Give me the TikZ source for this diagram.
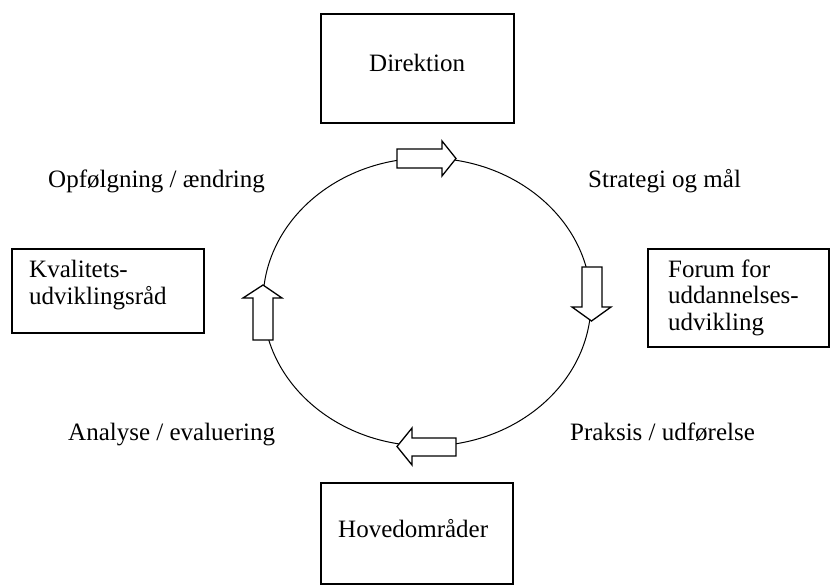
\documentclass[tikz,border=0pt]{standalone}
\usepackage{fontspec}
\setmainfont{Liberation Serif}
\begin{document}
\begin{tikzpicture}[x=1pt,y=-1pt,
  font=\fontsize{25}{26.5}\selectfont,
  box/.style={draw, line width=1.6pt, inner sep=0pt},
  lbl/.style={anchor=base west, inner sep=0pt, align=left},
  blockarrow/.style={draw, fill=white, line width=1.3pt, line join=miter},
  cycle line/.style={line width=1pt}]
\useasboundingbox (0,0) rectangle (832,586);
% boxes
\node[box, minimum width=193pt, minimum height=109pt] (dir) at (417.5,68.5) {};
\node[box, minimum width=192pt, minimum height=101pt] (hov) at (417,533.5) {};
\node[box, minimum width=192pt, minimum height=84pt] (kval) at (108,291) {};
\node[box, minimum width=181pt, minimum height=98pt] (forum) at (738.5,298) {};
% box texts (base anchor = baseline of last line)
\node[lbl] (tdir) at (369,71) {Direktion};
\node[lbl] (thov) at (338,537) {Hovedområder};
\node[lbl] (tkval) at (29,304) {Kvalitets-\\udviklingsråd};
\node[lbl] (tforum) at (668,330) {Forum for\\uddannelses-\\udvikling};
% cycle labels
\node[lbl] (opf) at (48,187) {Opfølgning / ændring};
\node[lbl] (str) at (588,187) {Strategi og mål};
\node[lbl] (ana) at (68,440) {Analyse / evaluering};
\node[lbl] (pra) at (570,440) {Praksis / udførelse};
% cycle
\draw[cycle line] (427,302) ellipse [x radius=164, y radius=144];
% block arrows
\draw[blockarrow] (397,149) -- (442,149) -- (442,141) -- (456,158.5) -- (442,176) -- (442,168) -- (397,168) -- cycle;
\draw[blockarrow] (582,267) -- (602,267) -- (602,307) -- (611,307) -- (591.5,321) -- (572,307) -- (582,307) -- cycle;
\draw[blockarrow] (456,438) -- (412,438) -- (412,428) -- (397,446.5) -- (412,465) -- (412,456) -- (456,456) -- cycle;
\draw[blockarrow] (253,340) -- (253,298) -- (243,298) -- (263,285) -- (282,298) -- (273,298) -- (273,340) -- cycle;
\end{tikzpicture}
\end{document}
